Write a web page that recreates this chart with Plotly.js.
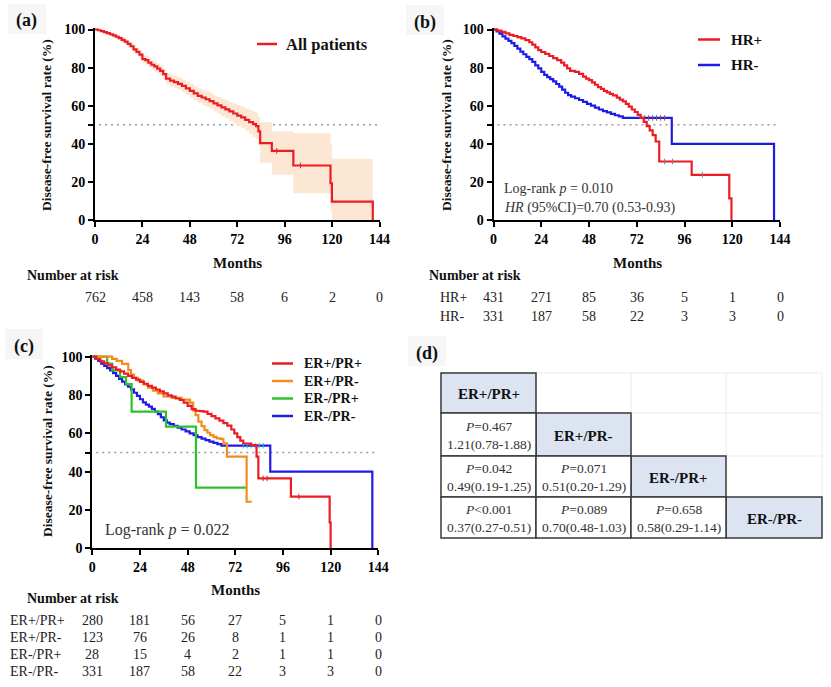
<!DOCTYPE html>
<html><head><meta charset="utf-8">
<script src="https://cdn.plot.ly/plotly-3.0.1.min.js"></script>
<style>html,body{margin:0;padding:0;background:#fff}#chart{width:831px;height:687px}</style>
</head><body><div id="chart"></div>
<script>
// ---------- DATA ----------
const riskTimes = [0, 24, 48, 72, 96, 120, 144];
const riskAll = [762, 458, 143, 58, 6, 2, 0];
const riskHRpos = [431, 271, 85, 36, 5, 1, 0];
const riskHRneg = [331, 187, 58, 22, 3, 3, 0];
const riskERpPRp = [280, 181, 56, 27, 5, 1, 0];
const riskERpPRn = [123, 76, 26, 8, 1, 1, 0];
const riskERnPRp = [28, 15, 4, 2, 1, 1, 0];
const riskERnPRn = [331, 187, 58, 22, 3, 3, 0];

// (a) all patients
const allT = [0,1.5,3,4.5,6,7.5,9,10.5,12,13.5,15,16.5,18,19.5,21,22.5,24,25.5,27,28.5,30,31.5,33,34.5,36,38,40,42,44,46,48,50,52,54,56,58,60,62,64,66,68,70,72,74,76,78,80,81.5,82.7,83.6,89.5,100.4,119.2,119.9,140.6];
const allS = [100,99.6,99.1,98.6,98.1,97.5,96.9,96.2,95.5,94.6,93.6,92.5,91.2,89.6,88.3,86.8,84.5,83.9,82.6,81.5,80.6,79.5,78.3,76.6,74.2,73.2,72.4,71.5,70.4,69.1,67.8,66.5,65.2,64.3,63.4,62.4,61.2,60.2,59.1,58.1,57.0,55.9,54.8,53.9,52.6,51.4,50.3,49.3,46.5,40.4,36.3,28.6,19.3,9.6,0];
const allUpper = [100,100,99.7,99.4,99.0,98.5,98.0,97.4,96.8,96.0,95.1,94.1,92.9,91.5,90.3,88.9,86.7,86.2,85.0,84.0,83.2,82.2,81.1,79.5,77.2,76.3,75.6,74.8,73.8,72.6,71.4,70.2,69.0,68.2,67.4,66.5,65.4,64.6,63.7,62.9,62.0,61.1,60.2,59.5,58.5,57.6,56.9,56.3,54.0,51.5,46.5,45.6,40.0,32.1,0];
const allLower = [100,99.2,98.5,97.8,97.2,96.5,95.8,95.0,94.2,93.2,92.1,90.9,89.5,87.7,86.3,84.7,82.3,81.6,80.2,79.0,78.0,76.8,75.5,73.7,71.2,70.1,69.2,68.2,67.0,65.6,64.2,62.8,61.4,60.4,59.4,58.3,57.0,55.8,54.5,53.3,52.0,50.7,49.4,48.3,46.7,45.2,43.7,42.3,39.0,30.0,23.7,14.0,5.0,0,0];
const allCensT = [92, 104];
const allCensS = [36.3, 28.6];

// (b) HR+ / HR-
const hrPosT = [0,2,4,6,8,10,12,14,16,18,19.5,21,22.5,24,26,28,30,32,34,35.5,37,38.5,41,43,45,46.5,48,49.5,51,52.5,54,55.5,57,58.5,60,62,63.5,65,66.5,68,69.5,71,72.5,74,75.5,77,78.5,80,81.5,83.3,99.6,118.5,119.6];
const hrPosS = [100,99.4,98.8,98.0,97.2,96.6,96.0,95.3,94.4,93.3,92.1,90.6,89.2,88.2,87.2,86.1,85.0,83.9,82.6,81.2,79.6,78.3,77.8,76.7,75.3,74.2,73.4,72.2,71.0,69.8,68.8,67.8,67.0,66.2,65.4,64.2,63.2,62.3,61.0,59.5,58.0,56.7,55.2,53.6,51.5,49.3,47.0,44.6,41.2,30.7,23.7,11.4,0];
const hrPosCensT = [86, 90, 105];
const hrPosCensS = [30.7, 30.7, 23.7];
const hrNegT = [0,1.5,3,4.5,6,7.5,9,10.5,12,13.5,15,16.5,18,19.5,21,22.5,24,25.5,27,28.5,30,31.5,33,34.5,36,37.5,39,41,43,45,47,49,51,53,55,57,59,61,63,65,89.6,141];
const hrNegS = [100,99,97.8,96.4,95.2,94.0,92.8,91.4,90.0,88.4,87.0,85.6,84.4,83.0,81.2,79.6,77.8,76.2,75.0,74.0,72.8,71.4,70.0,68.4,66.8,65.6,64.8,63.9,63.0,62.0,61.0,60.0,59.0,58.0,57.2,56.5,55.7,55.0,54.4,53.6,40.0,0];
const hrNegCensT = [76, 78, 80, 82, 84, 86];
const hrNegCensS = [53.6, 53.6, 53.6, 53.6, 53.6, 53.6];

// (c) ER/PR subgroups
const erpprpT = [0,2,4,6,8,10,12,14,16,18,20,22,24,26,28,30,32,34,36,38,40,42,44,46,48,50,52,54,56,58,60,62,64,66,68,70,71.5,73,74.5,76,80,82.7,83.6,100,119.5,120];
const erpprpS = [100,98.8,97.6,96.5,95.5,94.4,93.3,92.3,91.2,90.0,89.0,88.0,86.9,85.9,84.8,83.9,82.9,81.9,80.9,79.8,79.2,78.2,77.4,76.0,74.3,72.6,71.8,71.6,71.3,70.2,69.0,67.8,66.6,65.3,64.0,62.0,60.0,58.0,56.2,54.7,53.9,47.8,36.5,27.0,13.5,0];
const erpprnT = [0,10,12.3,15,18.1,19.5,21,23,25.7,28,30.5,33,35.8,40,45,49.2,50.8,52,53.4,55,56.5,58,59.3,61,62.6,64.5,66,67.8,77.7,80.3];
const erpprnS = [100,98.9,97.8,96.3,93.0,90.6,89.0,87.5,85.5,83.8,82.3,80.9,79.3,78.5,77.6,76.0,72.0,69.5,66.1,63.8,61.7,60.3,59.1,58.2,57.4,57.1,54.8,47.8,24.3,24.3];
const ernprpT = [0,7.5,10,14,17,19.8,37.1,52.2,77.7];
const ernprpS = [100,96.4,92.9,89.3,85.7,71.3,63.5,31.7,31.7];
const ernprnT = hrNegT;   // ER-/PR- is the HR- group
const ernprnS = hrNegS;
const cRedCensT = [86, 88, 104];
const cRedCensS = [36.5, 36.5, 27.0];

// (d) pairwise comparisons
const groups = ['ER+/PR+', 'ER+/PR-', 'ER-/PR+', 'ER-/PR-'];
const pairRow = [1, 2, 2, 3, 3, 3];
const pairCol = [0, 0, 1, 0, 1, 2];
const pairP = ['=0.467', '=0.042', '=0.071', '<0.001', '=0.089', '=0.658'];
const pairHR = ['1.21(0.78-1.88)', '0.49(0.19-1.25)', '0.51(0.20-1.29)', '0.37(0.27-0.51)', '0.70(0.48-1.03)', '0.58(0.29-1.14)'];

// ---------- STYLE / LAYOUT ----------
const W = 831, H = 687;
const PX = x => x / W, PY = y => 1 - y / H;
const SERIF = 'Liberation Serif, Times New Roman, serif';
const RED = '#ec1c24', BLUE = '#1c1ce6', ORANGE = '#f48c1c', GREEN = '#2cc22c', BAND = '#fce6d4';

const traces = [];
function km(name, x, y, color, xa, ya) {
  traces.push({type: 'scatter', mode: 'lines', name, x, y, xaxis: xa, yaxis: ya,
    line: {shape: 'hv', color, width: 2.2}, showlegend: false, hoverinfo: 'skip'});
}
function cens(x, y, color, xa, ya) {
  traces.push({type: 'scatter', mode: 'markers', x, y, xaxis: xa, yaxis: ya,
    marker: {symbol: 'line-ns-open', size: 4, line: {color, width: 1}}, showlegend: false, hoverinfo: 'skip'});
}
// (a) CI band
traces.push({type: 'scatter', mode: 'lines', x: allT, y: allUpper, xaxis: 'x', yaxis: 'y',
  line: {shape: 'hv', width: 0, color: BAND}, showlegend: false, hoverinfo: 'skip'});
traces.push({type: 'scatter', mode: 'lines', x: allT, y: allLower, xaxis: 'x', yaxis: 'y', fill: 'tonexty',
  fillcolor: BAND, line: {shape: 'hv', width: 0, color: BAND}, showlegend: false, hoverinfo: 'skip'});
km('All patients', allT, allS, RED, 'x', 'y');
cens(allCensT, allCensS, RED, 'x', 'y');
km('HR-', hrNegT, hrNegS, BLUE, 'x2', 'y2');
cens(hrNegCensT, hrNegCensS, BLUE, 'x2', 'y2');
km('HR+', hrPosT, hrPosS, RED, 'x2', 'y2');
cens(hrPosCensT, hrPosCensS, RED, 'x2', 'y2');
km('ER-/PR-', ernprnT, ernprnS, BLUE, 'x3', 'y3');
cens(hrNegCensT, hrNegCensS, BLUE, 'x3', 'y3');
km('ER-/PR+', ernprpT, ernprpS, GREEN, 'x3', 'y3');
km('ER+/PR-', erpprnT, erpprnS, ORANGE, 'x3', 'y3');
km('ER+/PR+', erpprpT, erpprpS, RED, 'x3', 'y3');
cens(cRedCensT, cRedCensS, RED, 'x3', 'y3');

function xax(dom, anchor) {
  return {domain: dom, anchor, range: [0, 144], tickvals: riskTimes, ticks: 'outside', ticklen: 5, tickwidth: 2,
    tickcolor: '#000', showline: true, linewidth: 2, linecolor: '#000', showgrid: false, zeroline: false,
    tickfont: {family: SERIF, size: 14, weight: 'bold', color: '#000'}, fixedrange: true};
}
function yax(dom, anchor) {
  return {domain: dom, anchor, range: [0, 101], tickvals: [0, 20, 40, 50, 60, 80, 100],
    ticktext: ['0', '20', '40', '', '60', '80', '100'], ticks: 'outside', ticklen: 5, tickwidth: 2,
    tickcolor: '#000', showline: true, linewidth: 2, linecolor: '#000', showgrid: false, zeroline: false,
    tickfont: {family: SERIF, size: 14, weight: 'bold', color: '#000'}, fixedrange: true};
}

const shapes = [];
const annotations = [];
function A(text, x, y, o = {}) {
  annotations.push(Object.assign({text, x: PX(x), y: PY(y), xref: 'paper', yref: 'paper', showarrow: false,
    xanchor: 'center', yanchor: 'middle', font: {family: SERIF, size: 14, color: '#111'}}, o));
}
function seg(x0, x1, y, color) {
  shapes.push({type: 'line', xref: 'paper', yref: 'paper', x0: PX(x0), x1: PX(x1), y0: PY(y), y1: PY(y),
    line: {color, width: 2.5}});
}
function rect(x0, y0, x1, y1, fill, lc, lw) {
  shapes.push({type: 'rect', xref: 'paper', yref: 'paper', x0: PX(x0), x1: PX(x1), y0: PY(y1), y1: PY(y0),
    fillcolor: fill, line: {color: lc || fill, width: lw || 0}, layer: 'below'});
}

// panel labels
[['(a)', 27, 21], ['(b)', 425, 22], ['(c)', 24, 346], ['(d)', 427, 353]].forEach(([t, x, y]) => {
  rect(x - 19, y - 17, x + 19, y + 13, '#f6f6f6');
  A(t, x, y, {font: {family: SERIF, size: 18, weight: 'bold', color: '#111'}});
});

// dotted 50% lines
[['x', 'y'], ['x2', 'y2'], ['x3', 'y3']].forEach(([xr, yr]) => {
  shapes.push({type: 'line', xref: xr, yref: yr, x0: 2, x1: 143, y0: 50, y1: 50,
    line: {color: '#999', width: 1.5, dash: '2px,4px'}, layer: 'below'});
});

const bold = s => ({family: SERIF, size: s, weight: 'bold', color: '#111'});
const reg = s => ({family: SERIF, size: s, color: '#222'});

// axis titles
A('Disease-free survival rate (%)', 47, 125, {textangle: -90, font: bold(13.5)});
A('Disease-free survival rate (%)', 447, 125, {textangle: -90, font: bold(13.5)});
A('Disease-free survival rate (%)', 47, 451, {textangle: -90, font: bold(13.5)});
A('Months', 237, 263, {font: bold(15)});
A('Months', 637, 263, {font: bold(15)});
A('Months', 235, 590, {font: bold(15)});

// legends
seg(257, 277, 44, RED); A('All patients', 284, 44, {xanchor: 'left', font: bold(16.5)});
seg(698, 720, 39.5, RED); A('HR+', 729, 39.5, {xanchor: 'left', font: bold(15)});
seg(698, 720, 65, BLUE); A('HR-', 729, 65, {xanchor: 'left', font: bold(15)});
const cLeg = [['ER+/PR+', RED, 363.5], ['ER+/PR-', ORANGE, 381], ['ER-/PR+', GREEN, 398.5], ['ER-/PR-', BLUE, 416]];
cLeg.forEach(([t, c, y]) => { seg(272, 293, y, c); A(t, 302, y, {xanchor: 'left', font: bold(14)}); });

// statistics text
A('Log-rank <i>p</i> = 0.010', 502, 188, {xanchor: 'left', font: {family: SERIF, size: 14, color: '#333'}});
A('<i>HR</i> (95%CI)=0.70 (0.53-0.93)', 502, 208, {xanchor: 'left', font: {family: SERIF, size: 14, color: '#333'}});
A('Log-rank <i>p</i> = 0.022', 103, 530, {xanchor: 'left', font: {family: SERIF, size: 16, color: '#333'}});

// number at risk
A('Number at risk', 25, 275, {xanchor: 'left', font: bold(14)});
A('Number at risk', 427, 275, {xanchor: 'left', font: bold(14)});
A('Number at risk', 25, 598, {xanchor: 'left', font: bold(14)});
function riskRow(vals, xr, y, label, lx) {
  if (label) A(label, lx, y, {xanchor: 'left', font: reg(14)});
  vals.forEach((v, i) => annotations.push({text: String(v), x: riskTimes[i], xref: xr, y: PY(y), yref: 'paper',
    showarrow: false, xanchor: 'center', yanchor: 'middle', font: reg(14)}));
}
riskRow(riskAll, 'x', 297);
riskRow(riskHRpos, 'x2', 297, 'HR+', 438);
riskRow(riskHRneg, 'x2', 316, 'HR-', 438);
riskRow(riskERpPRp, 'x3', 620, 'ER+/PR+', 8);
riskRow(riskERpPRn, 'x3', 637, 'ER+/PR-', 8);
riskRow(riskERnPRp, 'x3', 654, 'ER-/PR+', 8);
riskRow(riskERnPRn, 'x3', 671, 'ER-/PR-', 8);

// (d) table
const cx = [441, 536, 631, 726, 822];
const ry = [373, 413, 456, 497, 538];
cx.forEach(x => shapes.push({type: 'line', xref: 'paper', yref: 'paper', x0: PX(x), x1: PX(x), y0: PY(ry[0]), y1: PY(ry[4]), line: {color: '#ebebeb', width: 1}}));
ry.forEach(y => shapes.push({type: 'line', xref: 'paper', yref: 'paper', x0: PX(cx[0]), x1: PX(cx[4]), y0: PY(y), y1: PY(y), line: {color: '#ebebeb', width: 1}}));
function cell(r, c, fill) {
  shapes.push({type: 'rect', xref: 'paper', yref: 'paper', x0: PX(cx[c]), x1: PX(cx[c + 1]), y0: PY(ry[r + 1]), y1: PY(ry[r]),
    fillcolor: fill, line: {color: '#3a3a3a', width: 1.5}});
}
groups.forEach((g, i) => {
  cell(i, i, '#dce3f1');
  A(g, (cx[i] + cx[i + 1]) / 2, (ry[i] + ry[i + 1]) / 2 + 1, {font: bold(15)});
});
pairP.forEach((p, k) => {
  const r = pairRow[k], c = pairCol[k];
  cell(r, c, '#ffffff');
  A('<i>P</i>' + p + '<br>' + pairHR[k], (cx[c] + cx[c + 1]) / 2, (ry[r] + ry[r + 1]) / 2 + 1,
    {font: {family: SERIF, size: 13.5, color: '#333'}});
});

const layout = {
  width: W, height: H, margin: {l: 0, r: 0, t: 0, b: 0}, paper_bgcolor: '#fff', plot_bgcolor: 'rgba(0,0,0,0)',
  showlegend: false,
  xaxis: xax([95 / W, 379.5 / W], 'y'), yaxis: yax([PY(220), PY(27.6)], 'x'),
  xaxis2: xax([493.5 / W, 780 / W], 'y2'), yaxis2: yax([PY(220), PY(27.6)], 'x2'),
  xaxis3: xax([92.3 / W, 378.3 / W], 'y3'), yaxis3: yax([PY(548.3), PY(354.8)], 'x3'),
  shapes, annotations
};
Plotly.newPlot('chart', traces, layout, {displayModeBar: false, staticPlot: true});
</script></body></html>
